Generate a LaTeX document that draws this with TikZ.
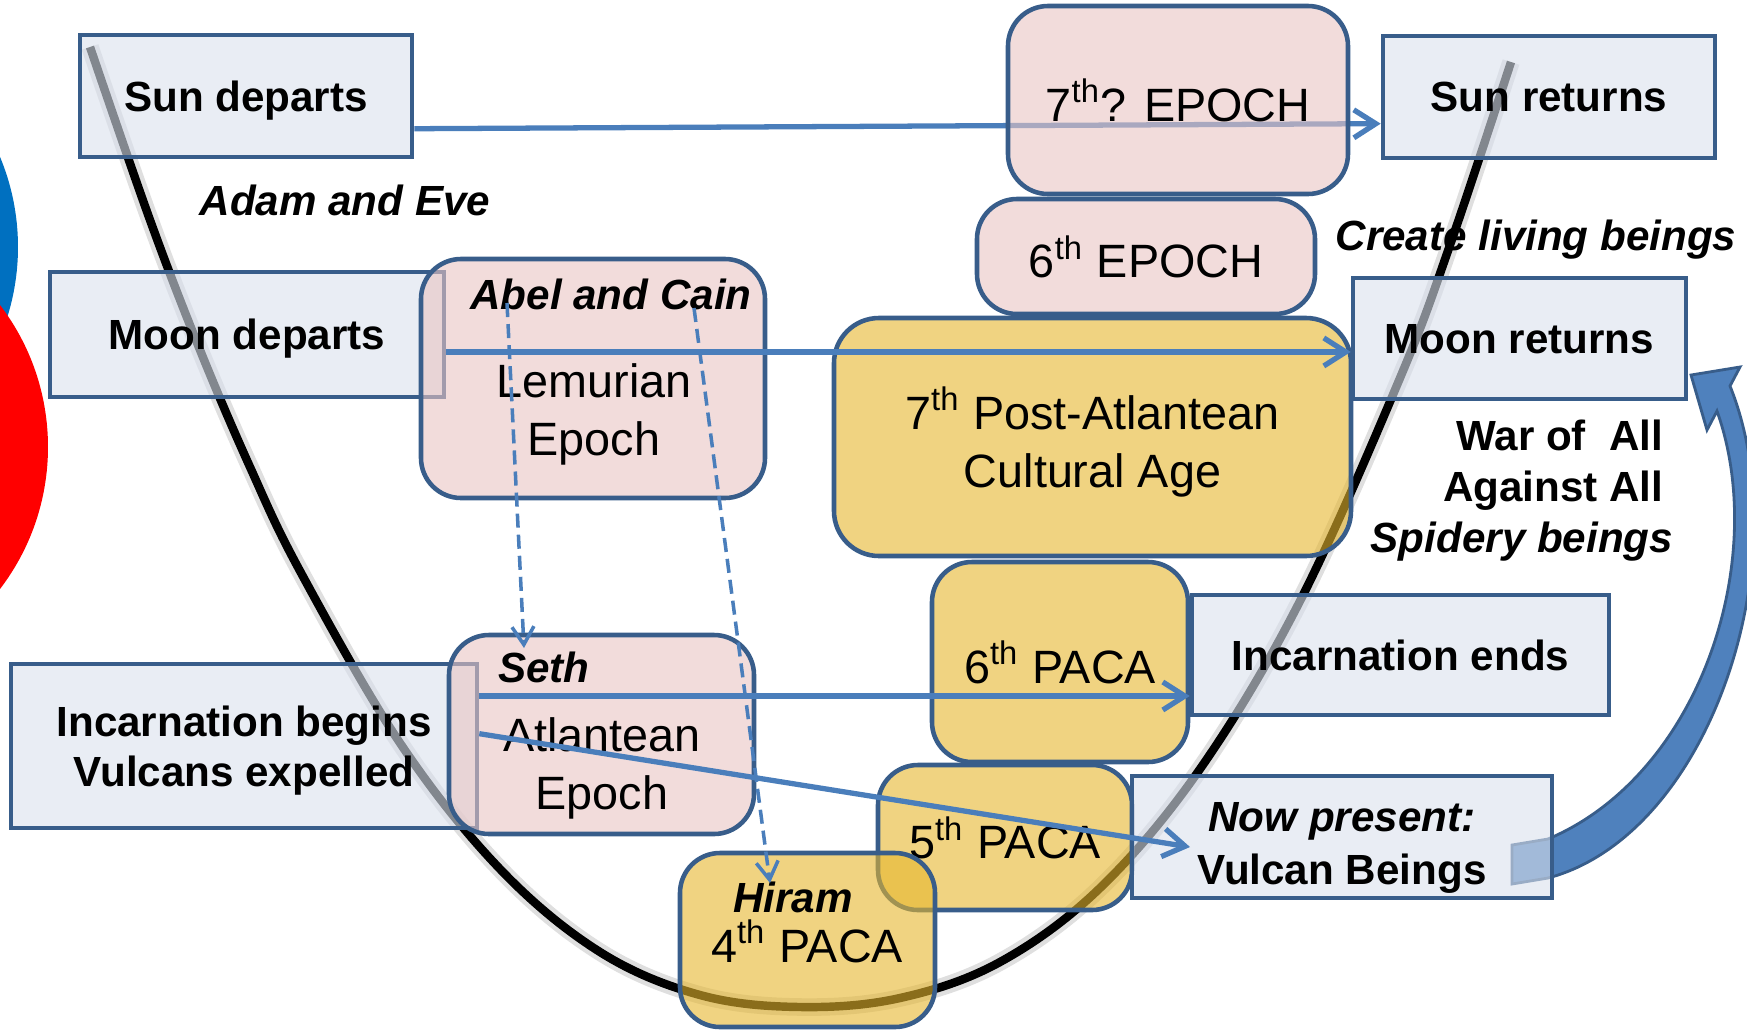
\documentclass[tikz,border=0pt]{standalone}
\usepackage{fontspec}
\setmainfont{Liberation Sans}
\usetikzlibrary{arrows.meta}

\definecolor{boxline}{HTML}{385D8A}
\definecolor{bluefill}{HTML}{DAE1ED}
\definecolor{pinkfill}{HTML}{E9C5C3}
\definecolor{goldfill}{HTML}{E6B62D}
\definecolor{arrowblue}{HTML}{4A7EBB}
\definecolor{bigblue}{HTML}{4F81BD}
\definecolor{sunblue}{HTML}{0070C0}

\begin{document}
\begin{tikzpicture}[x=0.1mm, y=-0.1mm,
        bluebox/.style={draw=boxline, line width=1.3pt, fill=bluefill, fill opacity=0.6, text opacity=1,
                inner sep=0pt, text depth=0pt, align=center, font={\fontsize{12}{14.2}\selectfont\bfseries}},
        pinkbox/.style={draw=boxline, line width=1.3pt, rounded corners=4mm, fill=pinkfill, fill opacity=0.6,
                text opacity=1, inner sep=0pt, text depth=0pt, align=center, font={\fontsize{13.3}{16.5}\selectfont}},
        goldbox/.style={pinkbox, fill=goldfill},
        title/.style={inner sep=0pt, font={\fontsize{12}{14.2}\selectfont\bfseries\itshape}},
        body/.style={inner sep=0pt, text depth=0pt, align=center, font={\fontsize{13.3}{16.5}\selectfont}},
        conn/.style={draw=arrowblue, line width=1.5pt, -{Straight Barb[length=2.2mm, width=2.8mm]}},
        dconn/.style={draw=arrowblue, line width=1pt, dash pattern=on 4pt off 2pt,
                -{Straight Barb[length=1.8mm, width=2.2mm]}}]
        \useasboundingbox (0,0) rectangle (1747,1029);
        \clip (0,0) rectangle (1747,1029);

        \fill[sunblue] (-216,247) circle[radius=23.4mm];
        \fill[red] (-186,447) circle[radius=23.4mm];

        \draw[gray, line width=5pt, opacity=0.25] plot[smooth, tension=0.6] coordinates {(90,47) (150,220) (200,350) (250,467) (300,571) (400,743) (500,869) (600,952) (700,995) (800,1007) (900,998) (1000,962) (1100,888) (1200,769) (1300,601) (1400,378) (1450,245) (1511,62)};
        \draw[black, line width=2.4pt] plot[smooth, tension=0.6] coordinates {(90,47) (150,220) (200,350) (250,467) (300,571) (400,743) (500,869) (600,952) (700,995) (800,1007) (900,998) (1000,962) (1100,888) (1200,769) (1300,601) (1400,378) (1450,245) (1511,62)};

        \filldraw[fill=bigblue, draw=boxline, line width=0.8pt] (1512,845) -- (1548,839)
                .. controls (1700,775) and (1770,560) .. (1717,411) -- (1707,430) -- (1691,375)
                -- (1740,367) -- (1730,386) .. controls (1800,560) and (1710,835) .. (1548,878)
                -- (1512,884) -- cycle;

        \node[bluebox, minimum width=33.2mm, minimum height=12.2mm] (sundep) at (246,96) {Sun departs};
        \node[bluebox, minimum width=33.2mm, minimum height=12.2mm] (sunret) at (1549,97) {Sun returns};
        \draw[conn] (sundep.-11) -- (sunret.189);
        \node[pinkbox, minimum width=34mm, minimum height=18.8mm] (ep7) at (1178,100) {7\textsuperscript{th}? EPOCH};
        \node[pinkbox, minimum width=33.8mm, minimum height=11.5mm] (ep6) at (1146,256.5) {6\textsuperscript{th} EPOCH};

        \node[bluebox, minimum width=39.4mm, minimum height=12.5mm] (moondep) at (247,334.5) {Moon departs};
        \node[pinkbox, minimum width=34.4mm, minimum height=23.9mm] (lemur) at (593,378.5) {};
        \node[bluebox, minimum width=46.6mm, minimum height=16.4mm] (incbeg) at (244,746) {Incarnation begins\\Vulcans expelled};
        \node[pinkbox, minimum width=30.5mm, minimum height=19.9mm] (atlant) at (601.5,734.5) {};
        \node[goldbox, minimum width=25.4mm, minimum height=14.5mm] (paca5) at (1005,837.5) {5\textsuperscript{th} PACA};
        \node[goldbox, minimum width=25.5mm, minimum height=17.4mm] (paca4) at (807.5,940) {};
        \node[goldbox, minimum width=51.7mm, minimum height=23.8mm, rounded corners=4.5mm] (paca7) at (1092.5,437) {7\textsuperscript{th} Post-Atlantean\\Cultural Age};
        \node[bluebox, minimum width=33.3mm, minimum height=12.1mm] (moonret) at (1519.5,338.5) {Moon returns};
        \node[goldbox, minimum width=25.6mm, minimum height=20mm] (paca6) at (1060,662) {6\textsuperscript{th} PACA};
        \node[bluebox, minimum width=41.7mm, minimum height=12mm] (incend) at (1400.5,655) {Incarnation ends};
        \node[bluebox, minimum width=42mm, minimum height=12.2mm] (nowpres) at (1342,837) {\rule{0pt}{4.2mm}\textit{Now present:}\\[0.3mm]Vulcan Beings};

        \node[title] (abel) at (611,294) {Abel and Cain};
        \node[body] (lemurtxt) at (594,410) {Lemurian\\Epoch};
        \node[title] (seth) at (544,667) {Seth};
        \node[body] (atltxt) at (602,764) {Atlantean\\Epoch};
        \node[title] (hiram) at (793,897) {Hiram};
        \node[body] (paca4txt) at (807,941) {4\textsuperscript{th} PACA};
        \node[title] (adam) at (345,200) {Adam and Eve};
        \node[title] (create) at (1536,240) {Create living beings};
        \node[inner sep=0pt, text depth=0pt, anchor=east, align=right, font={\fontsize{12}{14.5}\selectfont\bfseries}] (war) at (1664,486) {War of~ All\\Against All\\\textit{Spidery beings}\hspace*{-2.8pt}};

        \coordinate (abelL) at (507,303);
        \coordinate (abelR) at (694,308);
        \coordinate (sethT) at (524,648);
        \coordinate (hiramT) at (770,883);
        \coordinate (vulc) at (1190,847);

        \draw[conn] (moondep.-5) -- (moondep.-5 -| moonret.west);
        \draw[conn] (incbeg.12) -- (incbeg.12 -| incend.west);
        \draw[conn] (incbeg.3) -- (vulc);
        \draw[dconn] (abelL) -- (sethT);
        \draw[dconn] (abelR) -- (hiramT);
      \end{tikzpicture}
\end{document}
